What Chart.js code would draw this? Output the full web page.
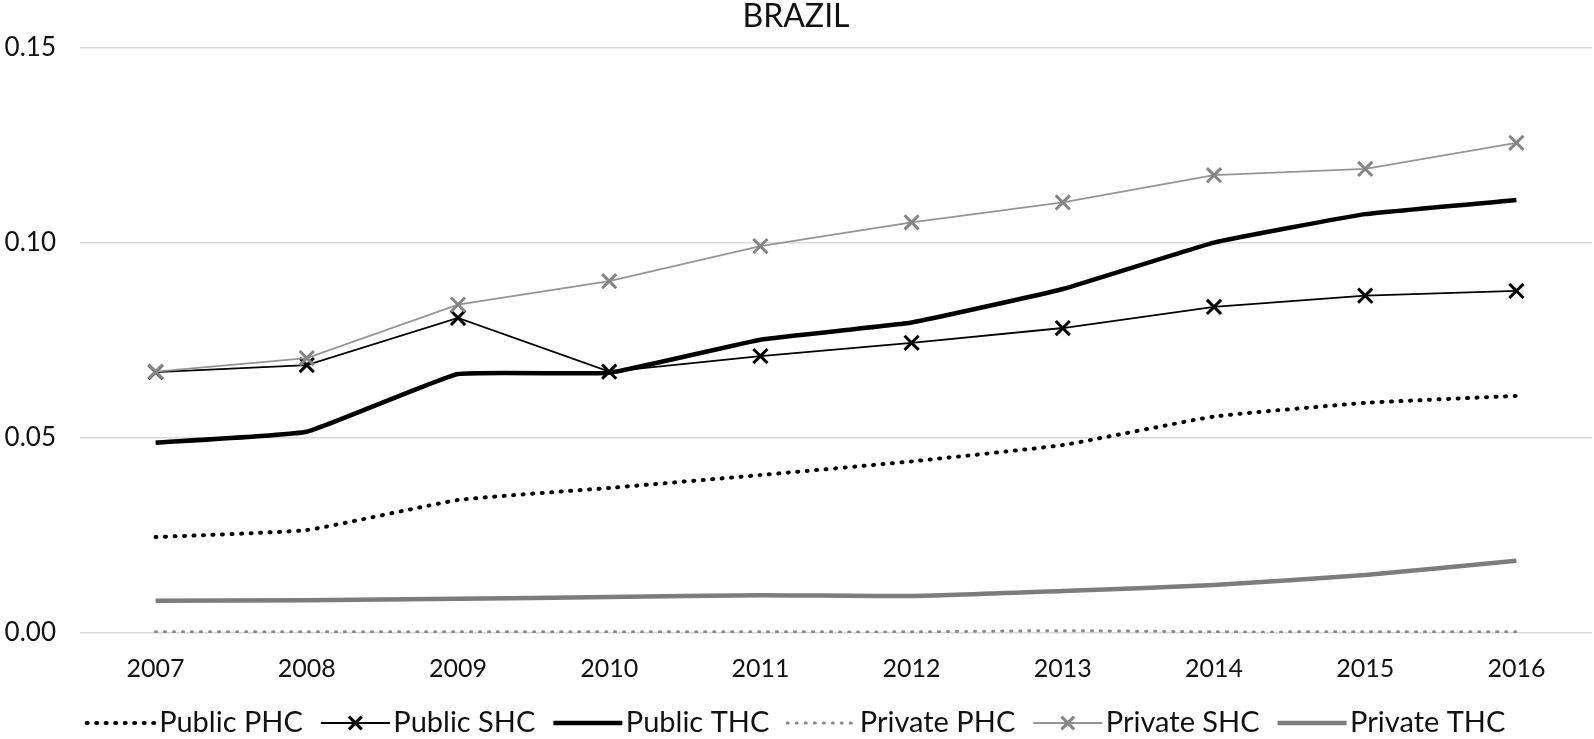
<!DOCTYPE html>
<html>
<head>
<meta charset="utf-8">
<style>
  html, body { margin: 0; padding: 0; background: #fff; }
  #wrap { width: 1594px; height: 739px; position: relative; }
</style>
</head>
<body>
<div id="wrap"><canvas id="brazil_chart"></canvas></div>
<script src="https://cdn.jsdelivr.net/npm/chart.js@4.4.0/dist/chart.umd.min.js"></script>
<script>
const years = ['2007', '2008', '2009', '2010', '2011', '2012', '2013', '2014', '2015', '2016'];
const yTicks = [0, 0.05, 0.10, 0.15];

const publicPHC  = [0.0246, 0.0264, 0.0341, 0.0372, 0.0405, 0.0440, 0.0482, 0.0555, 0.0590, 0.0608];
const publicSHC  = [0.0669, 0.0687, 0.0808, 0.0670, 0.0710, 0.0744, 0.0782, 0.0836, 0.0865, 0.0877];
const publicTHC  = [0.0488, 0.0516, 0.0664, 0.0667, 0.0752, 0.0796, 0.0882, 0.1001, 0.1074, 0.1110];
const privatePHC = [0.0003, 0.0003, 0.0003, 0.0003, 0.0003, 0.0003, 0.0006, 0.0003, 0.0003, 0.0003];
const privateSHC = [0.0670, 0.0705, 0.0842, 0.0902, 0.0992, 0.1053, 0.1104, 0.1174, 0.1190, 0.1257];
const privateTHC = [0.0083, 0.0084, 0.0088, 0.0092, 0.0097, 0.0095, 0.0108, 0.0123, 0.0149, 0.0185];

const FONT = 'Lato, "Open Sans", sans-serif';
const black = '#000000';
const grey = '#8a8a8a';

// legend samples drawn by hand: a line in the series style, with an X for SHC
const SAMPLE_LEN = 69;
const legendSamples = {
  id: 'legendSamples',
  afterDraw(chart) {
    const legend = chart.legend;
    if (!legend || !legend.legendHitBoxes) return;
    const ctx = chart.ctx;
    legend.legendItems.forEach((item, i) => {
      const ds = chart.data.datasets[item.datasetIndex];
      const hb = legend.legendHitBoxes[i];
      const cy = hb.top + hb.height / 2;
      ctx.save();
      ctx.strokeStyle = ds.borderColor;
      ctx.lineWidth = ds.borderWidth;
      ctx.lineCap = ds.borderCapStyle || 'butt';
      ctx.setLineDash(ds.borderDash || []);
      ctx.beginPath();
      ctx.moveTo(hb.left, cy);
      ctx.lineTo(hb.left + SAMPLE_LEN, cy);
      ctx.stroke();
      if (ds.pointStyle === 'crossRot') {
        ctx.setLineDash([]);
        ctx.strokeStyle = ds.pointBorderColor;
        ctx.lineWidth = ds.pointBorderWidth;
        Chart.helpers.drawPoint(ctx, {pointStyle: 'crossRot', radius: 9, borderWidth: ds.pointBorderWidth}, hb.left + SAMPLE_LEN / 2, cy);
      }
      ctx.restore();
    });
  }
};

const ctx = document.getElementById('brazil_chart');
new Chart(ctx, {
  type: 'line',
  data: {
    labels: years,
    datasets: [
      { label: 'Public PHC', data: publicPHC, borderColor: black, backgroundColor: black,
        borderWidth: 4, borderDash: [1, 8.5], borderCapStyle: 'round', pointRadius: 0, tension: 0.12, order: 6 },
      { label: 'Public SHC', data: publicSHC, borderColor: black, backgroundColor: black,
        borderWidth: 1.8, pointStyle: 'crossRot', pointRadius: 10, pointBorderWidth: 3,
        pointBorderColor: black, tension: 0, order: 5 },
      { label: 'Public THC', data: publicTHC, borderColor: black, backgroundColor: black,
        borderWidth: 4.5, pointRadius: 0, tension: 0.1, order: 4 },
      { label: 'Private PHC', data: privatePHC, borderColor: grey, backgroundColor: grey,
        borderWidth: 3, borderDash: [1, 8], borderCapStyle: 'round', pointRadius: 0, tension: 0.2, order: 3 },
      { label: 'Private SHC', data: privateSHC, borderColor: '#959595', backgroundColor: '#959595',
        borderWidth: 1.8, pointStyle: 'crossRot', pointRadius: 10, pointBorderWidth: 3,
        pointBorderColor: '#858585', tension: 0, order: 2 },
      { label: 'Private THC', data: privateTHC, borderColor: '#7c7c7c', backgroundColor: '#7c7c7c',
        borderWidth: 4.5, pointRadius: 0, tension: 0.2, order: 1 }
    ]
  },
  options: {
    responsive: true,
    maintainAspectRatio: false,
    animation: false,
    layout: { autoPadding: false, padding: { top: 0, left: 0, right: 2, bottom: -8.5 } },
    plugins: {
      title: {
        display: true,
        text: 'BRAZIL',
        color: '#111',
        font: { family: FONT, size: 32, weight: 'normal', lineHeight: 1 },
        padding: { top: 0.5, bottom: 15.5 }
      },
      legend: {
        position: 'bottom',
        labels: {
          sort: (a, b) => a.datasetIndex - b.datasetIndex,
          usePointStyle: true,
          pointStyle: 'line',
          pointStyleWidth: 58,
          boxHeight: 10,
          padding: 18,
          color: '#111',
          font: { family: FONT, size: 29 },
          generateLabels(chart) {
            const items = Chart.defaults.plugins.legend.labels.generateLabels(chart);
            items.forEach(it => {
              it.pointStyle = 'line';
              it.strokeStyle = 'rgba(0,0,0,0)';
              it.fillStyle = 'rgba(0,0,0,0)';
              it.lineWidth = 0;
            });
            return items;
          }
        }
      },
      tooltip: { enabled: false }
    },
    scales: {
      x: {
        offset: true,
        afterFit(scale) {
          scale.height = 57.5;
          scale.paddingLeft = 0;
          scale.paddingRight = 0;
        },
        grid: { display: false, drawTicks: false },
        border: { display: false },
        ticks: { color: '#111', padding: 21, maxRotation: 0, font: { family: FONT, size: 25 } }
      },
      y: {
        min: 0,
        max: 0.15,
        afterFit(scale) { scale.width = 80; },
        afterBuildTicks(scale) { scale.ticks = yTicks.map(v => ({ value: v })); },
        grid: { color: '#d9d9d9', lineWidth: 1.5, drawTicks: false },
        border: { display: false },
        ticks: {
          color: '#111',
          padding: 24,
          font: { family: FONT, size: 26 },
          callback: (v) => Number(v).toFixed(2)
        }
      }
    }
  },
  plugins: [legendSamples]
});
</script>
</body>
</html>
